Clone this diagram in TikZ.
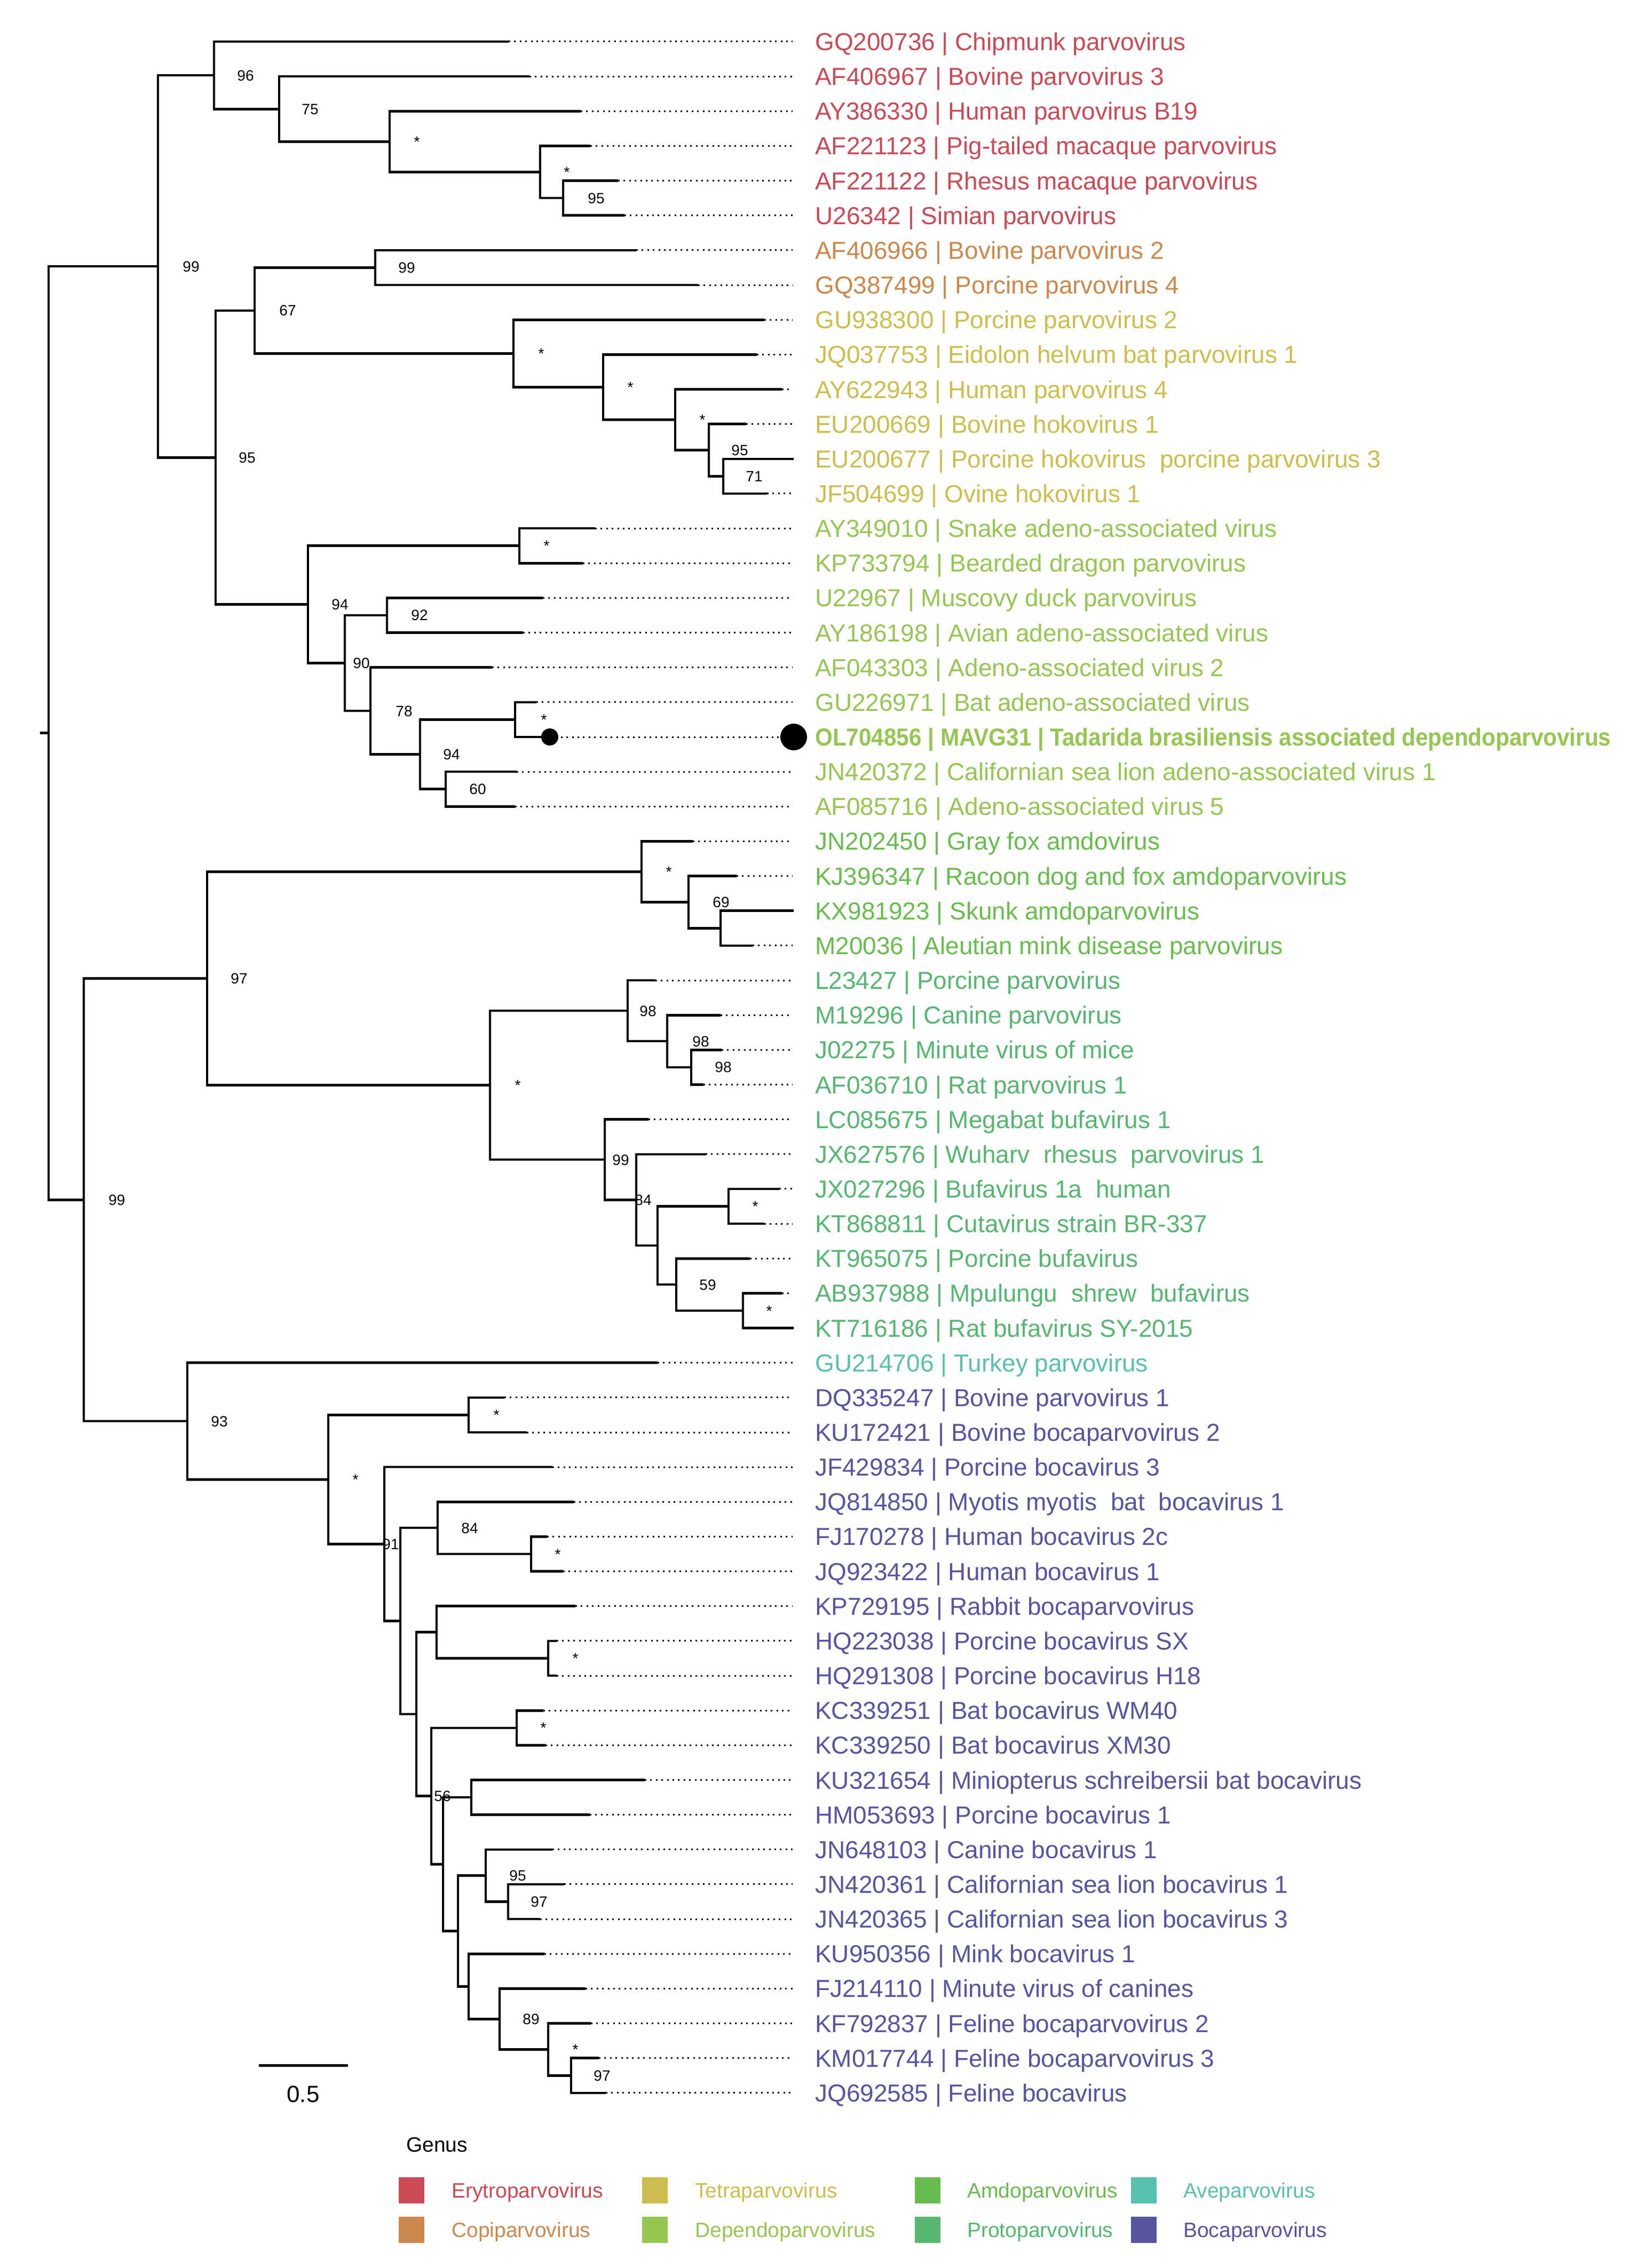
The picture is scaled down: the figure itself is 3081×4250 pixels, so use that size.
\documentclass[tikz,border=0pt]{standalone}
\usepackage{fontspec}
\usepackage{graphicx}
\setmainfont{Liberation Sans}
\usetikzlibrary{calc}
\definecolor{ery}{RGB}{202,74,86}
\definecolor{copi}{RGB}{204,136,76}
\definecolor{tetra}{RGB}{204,190,78}
\definecolor{dep}{RGB}{150,198,82}
\definecolor{amdo}{RGB}{104,188,78}
\definecolor{proto}{RGB}{86,182,112}
\definecolor{avep}{RGB}{88,192,172}
\definecolor{boca}{RGB}{88,84,160}
\tikzset{
  br/.style={line width=4.6pt, line join=miter},
  dots/.style={line width=3pt, dash pattern=on 3pt off 7.4pt},
  lab/.style={anchor=west, inner sep=0pt, text height=33pt, text depth=0pt, font=\fontsize{46}{50}\selectfont},
  sup/.style={inner sep=0pt, text height=20pt, text depth=0pt, font=\fontsize{28}{30}\selectfont},
  sq/.style={minimum width=48pt, minimum height=49pt, inner sep=0pt, draw=none},
  leg/.style={anchor=west, inner sep=0pt, text height=28pt, text depth=0pt, font=\fontsize{39}{42}\selectfont},
}
\newcommand\leaf[4]{%
  \coordinate (t#1) at (#2, {78+65.15*(#1-1)});
  \coordinate (e#1) at (1485, {78+65.15*(#1-1)});
  \draw[dots] (t#1) -- (e#1);
  \node[lab, text=#3] (l#1) at (1527, {78+65.15*(#1-1)}) {#4};
}
\newcommand\inode[4]{%
  \coordinate (#1m) at ($(#3)!0.5!(#4)$);
  \coordinate (#1) at (#2,0 |- #1m);
  \draw[br] (#1) |- (#3);
  \draw[br] (#1) |- (#4);
}
\newcommand\bsl[3]{\node[sup] (s#1) at (#2,0 |- #1) {#3};}
\begin{document}
\begin{tikzpicture}[x=1pt, y=-1pt]
\useasboundingbox[fill=white] (0,0) rectangle (3081,4250);
% leaves
\leaf{1}{953}{ery}{GQ200736 | Chipmunk parvovirus}
\leaf{2}{992}{ery}{AF406967 | Bovine parvovirus 3}
\leaf{3}{1088}{ery}{AY386330 | Human parvovirus B19}
\leaf{4}{1106}{ery}{AF221123 | Pig-tailed macaque parvovirus}
\leaf{5}{1158}{ery}{AF221122 | Rhesus macaque parvovirus}
\leaf{6}{1170}{ery}{U26342 | Simian parvovirus}
\leaf{7}{1192}{copi}{AF406966 | Bovine parvovirus 2}
\leaf{8}{1308}{copi}{GQ387499 | Porcine parvovirus 4}
\leaf{9}{1432}{tetra}{GU938300 | Porcine parvovirus 2}
\leaf{10}{1418}{tetra}{JQ037753 | Eidolon helvum bat parvovirus 1}
\leaf{11}{1465}{tetra}{AY622943 | Human parvovirus 4}
\leaf{12}{1398}{tetra}{EU200669 | Bovine hokovirus 1}
\leaf{13}{1487}{tetra}{EU200677 | Porcine hokovirus\ \ porcine parvovirus 3}
\leaf{14}{1437}{tetra}{JF504699 | Ovine hokovirus 1}
\leaf{15}{1115}{dep}{AY349010 | Snake adeno-associated virus}
\leaf{16}{1092}{dep}{KP733794 | Bearded dragon parvovirus}
\leaf{17}{1017}{dep}{U22967 | Muscovy duck parvovirus}
\leaf{18}{980}{dep}{AY186198 | Avian adeno-associated virus}
\leaf{19}{922}{dep}{AF043303 | Adeno-associated virus 2}
\leaf{20}{1005}{dep}{GU226971 | Bat adeno-associated virus}
\leaf{21}{1030}{dep}{\bfseries\scalebox{0.918}[1]{OL704856 | MAVG31 | Tadarida brasiliensis associated dependoparvovirus}}
\leaf{22}{968}{dep}{JN420372 | Californian sea lion adeno-associated virus 1}
\leaf{23}{965}{dep}{AF085716 | Adeno-associated virus 5}
\leaf{24}{1298}{amdo}{JN202450 | Gray fox amdovirus}
\leaf{25}{1380}{amdo}{KJ396347 | Racoon dog and fox amdoparvovirus}
\leaf{26}{1487}{amdo}{KX981923 | Skunk amdoparvovirus}
\leaf{27}{1410}{amdo}{M20036 | Aleutian mink disease parvovirus}
\leaf{28}{1228}{proto}{L23427 | Porcine parvovirus}
\leaf{29}{1350}{proto}{M19296 | Canine parvovirus}
\leaf{30}{1352}{proto}{J02275 | Minute virus of mice}
\leaf{31}{1318}{proto}{AF036710 | Rat parvovirus 1}
\leaf{32}{1215}{proto}{LC085675 | Megabat bufavirus 1}
\leaf{33}{1322}{proto}{JX627576 | Wuharv\ \ rhesus\ \ parvovirus 1}
\leaf{34}{1460}{proto}{JX027296 | Bufavirus 1a\ \ human}
\leaf{35}{1432}{proto}{KT868811 | Cutavirus strain BR-337}
\leaf{36}{1405}{proto}{KT965075 | Porcine bufavirus}
\leaf{37}{1465}{proto}{AB937988 | Mpulungu\ \ shrew\ \ bufavirus}
\leaf{38}{1487}{proto}{KT716186 | Rat bufavirus SY-2015}
\leaf{39}{1232}{avep}{GU214706 | Turkey parvovirus}
\leaf{40}{945}{boca}{DQ335247 | Bovine parvovirus 1}
\leaf{41}{987}{boca}{KU172421 | Bovine bocaparvovirus 2}
\leaf{42}{1035}{boca}{JF429834 | Porcine bocavirus 3}
\leaf{43}{1075}{boca}{JQ814850 | Myotis myotis\ \ bat\ \ bocavirus 1}
\leaf{44}{1025}{boca}{FJ170278 | Human bocavirus 2c}
\leaf{45}{1055}{boca}{JQ923422 | Human bocavirus 1}
\leaf{46}{1078}{boca}{KP729195 | Rabbit bocaparvovirus}
\leaf{47}{1043}{boca}{HQ223038 | Porcine bocavirus SX}
\leaf{48}{1043}{boca}{HQ291308 | Porcine bocavirus H18}
\leaf{49}{1018}{boca}{KC339251 | Bat bocavirus WM40}
\leaf{50}{1022}{boca}{KC339250 | Bat bocavirus XM30}
\leaf{51}{1208}{boca}{KU321654 | Miniopterus schreibersii bat bocavirus}
\leaf{52}{1105}{boca}{HM053693 | Porcine bocavirus 1}
\leaf{53}{1035}{boca}{JN648103 | Canine bocavirus 1}
\leaf{54}{1057}{boca}{JN420361 | Californian sea lion bocavirus 1}
\leaf{55}{1012}{boca}{JN420365 | Californian sea lion bocavirus 3}
\leaf{56}{1020}{boca}{KU950356 | Mink bocavirus 1}
\leaf{57}{1097}{boca}{FJ214110 | Minute virus of canines}
\leaf{58}{1107}{boca}{KF792837 | Feline bocaparvovirus 2}
\leaf{59}{1122}{boca}{KM017744 | Feline bocaparvovirus 3}
\leaf{60}{1135}{boca}{JQ692585 | Feline bocavirus}
% internal nodes (top clade)
\inode{n1055}{1055}{t5}{t6}
\inode{n1012}{1012}{t4}{n1055}
\inode{n730}{730}{t3}{n1012}
\inode{n523}{523}{t2}{n730}
\inode{nAa}{401}{t1}{n523}
\inode{n703}{703}{t7}{t8}
\inode{n1355}{1355}{t13}{t14}
\inode{n1328}{1328}{t12}{n1355}
\inode{n1265}{1265}{t11}{n1328}
\inode{n1130}{1130}{t10}{n1265}
\inode{n962}{962}{t9}{n1130}
\inode{n477}{477}{n703}{n962}
\inode{n973}{973}{t15}{t16}
\inode{n725}{725}{t17}{t18}
\inode{n965}{965}{t20}{t21}
\inode{n835}{835}{t22}{t23}
\inode{n787}{787}{n965}{n835}
\inode{n694}{694}{t19}{n787}
\inode{n646}{646}{n725}{n694}
\inode{nAc}{577}{n973}{n646}
\inode{nAb}{404}{n477}{nAc}
\inode{nA}{296}{nAa}{nAb}
% bottom clade
\inode{n1350}{1350}{t26}{t27}
\inode{n1290}{1290}{t25}{n1350}
\inode{nE}{1202}{t24}{n1290}
\inode{n1295}{1295}{t30}{t31}
\inode{n1250}{1250}{t29}{n1295}
\inode{nG}{1176}{t28}{n1250}
\inode{n1365}{1365}{t34}{t35}
\inode{n1392}{1392}{t37}{t38}
\inode{n1267}{1267}{t36}{n1392}
\inode{n1232}{1232}{n1365}{n1267}
\inode{n1192}{1192}{t33}{n1232}
\inode{nH}{1133}{t32}{n1192}
\inode{nF}{918}{nG}{nH}
\inode{nC}{388}{nE}{nF}
\inode{nJ}{878}{t40}{t41}
\inode{n995}{995}{t44}{t45}
\inode{nM}{820}{t43}{n995}
\inode{n1027}{1027}{t47}{t48}
\inode{nO}{818}{t46}{n1027}
\inode{nQ}{968}{t49}{t50}
\inode{nS}{883}{t51}{t52}
\inode{n952}{952}{t54}{t55}
\inode{nU}{910}{t53}{n952}
\inode{nY}{1070}{t59}{t60}
\inode{nX}{1027}{t58}{nY}
\inode{nW}{936}{t57}{nX}
\inode{nV}{878}{t56}{nW}
\inode{nT}{858}{nU}{nV}
\inode{nR}{830}{nS}{nT}
\inode{nP}{808}{nQ}{nR}
\inode{nN}{780}{nO}{nP}
\inode{nL}{750}{nM}{nN}
\inode{nK}{720}{t42}{nL}
\inode{nI}{615}{nJ}{nK}
\inode{nD}{351}{t39}{nI}
\inode{nB}{157}{nC}{nD}
\inode{nroot}{91}{nA}{nB}
\coordinate (rstub) at (75,0 |- nroot);
\draw[br] (rstub) -- (nroot);
% highlighted sequence
\fill (t21) circle (16pt);
\coordinate (bigdot) at (1487,0 |- t21);
\fill (bigdot) circle (25pt);
% support values
\bsl{nA}{358}{99}
\bsl{nAa}{460}{96}
\bsl{n523}{581}{75}
\bsl{n730}{781}{*}
\bsl{n1012}{1062}{*}
\bsl{n1055}{1117}{95}
\bsl{nAb}{463}{95}
\bsl{n477}{539}{67}
\bsl{n703}{762}{99}
\bsl{n962}{1014}{*}
\bsl{n1130}{1181}{*}
\bsl{n1265}{1316}{*}
\bsl{n1328}{1386}{95}
\bsl{n1355}{1413}{71}
\bsl{nAc}{637}{94}
\bsl{n973}{1024}{*}
\bsl{n646}{677}{90}
\bsl{n725}{786}{92}
\bsl{n694}{757}{78}
\bsl{n787}{846}{94}
\bsl{n965}{1019}{*}
\bsl{n835}{895}{60}
\bsl{nB}{219}{99}
\bsl{nC}{448}{97}
\bsl{nE}{1253}{*}
\bsl{n1290}{1351}{69}
\bsl{nF}{970}{*}
\bsl{nG}{1214}{98}
\bsl{n1250}{1313}{98}
\bsl{n1295}{1355}{98}
\bsl{nH}{1163}{99}
\bsl{n1192}{1205}{84}
\bsl{n1365}{1415}{*}
\bsl{n1267}{1326}{59}
\bsl{n1392}{1441}{*}
\bsl{nD}{411}{93}
\bsl{nI}{666}{*}
\bsl{nJ}{930}{*}
\bsl{nK}{732}{91}
\bsl{nM}{880}{84}
\bsl{n995}{1045}{*}
\bsl{n1027}{1078}{*}
\bsl{nP}{829}{56}
\bsl{nQ}{1018}{*}
\bsl{nU}{970}{95}
\bsl{n952}{1010}{97}
\bsl{nW}{995}{89}
\bsl{nX}{1078}{*}
\bsl{nY}{1128}{97}
% scale bar
\coordinate (sba) at (485,3870);
\coordinate (sbb) at (652,3870);
\draw[line width=5pt] (sba) -- (sbb);
\node[inner sep=0pt, font=\fontsize{44}{48}\selectfont] (sbl) at (568,3924) {0.5};
% legend
\node[leg, text=black] (gen) at (761,4018) {Genus};
\node[sq, fill=ery] (k1) at (771,4104.5) {};
\node[sq, fill=copi] (k2) at (771,4178.5) {};
\node[sq, fill=tetra] (k3) at (1226.5,4104.5) {};
\node[sq, fill=dep] (k4) at (1226.5,4178.5) {};
\node[sq, fill=amdo] (k5) at (1738,4104.5) {};
\node[sq, fill=proto] (k6) at (1738,4178.5) {};
\node[sq, fill=avep] (k7) at (2142.5,4104.5) {};
\node[sq, fill=boca] (k8) at (2142.5,4178.5) {};
\node[leg, text=ery] (g1) at (846,4104.5) {Erytroparvovirus};
\node[leg, text=copi] (g2) at (846,4178.5) {Copiparvovirus};
\node[leg, text=tetra] (g3) at (1302,4104.5) {Tetraparvovirus};
\node[leg, text=dep] (g4) at (1302,4178.5) {Dependoparvovirus};
\node[leg, text=amdo] (g5) at (1812,4104.5) {Amdoparvovirus};
\node[leg, text=proto] (g6) at (1812,4178.5) {Protoparvovirus};
\node[leg, text=avep] (g7) at (2217,4104.5) {Aveparvovirus};
\node[leg, text=boca] (g8) at (2217,4178.5) {Bocaparvovirus};
\end{tikzpicture}
\end{document}
